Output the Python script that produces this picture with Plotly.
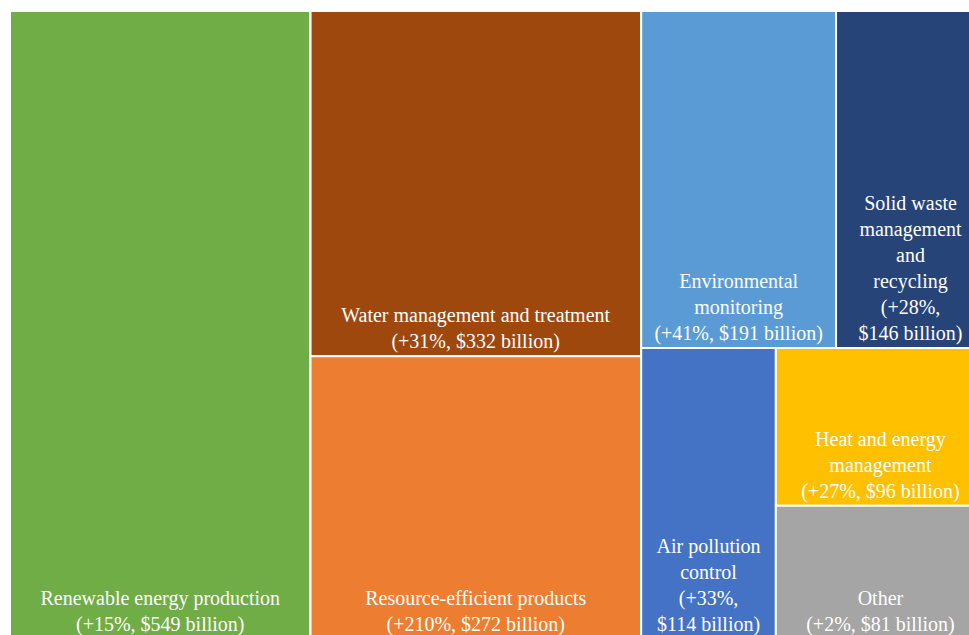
import plotly.graph_objects as go

names = ["Renewable energy production", "Water management and treatment",
         "Resource-efficient products", "Environmental monitoring",
         "Solid waste management and recycling", "Air pollution control",
         "Heat and energy management", "Other"]
display = ["Renewable energy production<br>(+15%, $549 billion)",
           "Water management and treatment<br>(+31%, $332 billion)",
           "Resource-efficient products<br>(+210%, $272 billion)",
           "Environmental<br>monitoring<br>(+41%, $191 billion)",
           "Solid waste<br>management<br>and<br>recycling<br>(+28%,<br>$146 billion)",
           "Air pollution<br>control<br>(+33%,<br>$114 billion)",
           "Heat and energy<br>management<br>(+27%, $96 billion)",
           "Other<br>(+2%, $81 billion)"]
values = [549, 332, 272, 191, 146, 114, 96, 81]
colors = ["#70AD47", "#9E480E", "#ED7D31", "#5B9BD5", "#264478", "#4472C4", "#FFC000", "#A5A5A5"]

# invisible grouping used only to arrange the tiles like the reference
# (order matters: entries are listed in drawing order)
structure = [("root", ""), (0, "root"), ("g1", "root"), (1, "g1"), (2, "g1"),
             ("g2", "root"), ("g3", "g2"), (3, "g3"), (4, "g3"),
             ("g4", "g2"), (5, "g4"), ("g5", "g4"), (6, "g5"), (7, "g5")]

ids, labels, parents, vals, texts, cols = [], [], [], [], [], []
for node, par in structure:
    if isinstance(node, str):
        ids.append(node); labels.append(""); parents.append(par)
        vals.append(0); texts.append(""); cols.append("white")
    else:
        ids.append("leaf%d" % node); labels.append(names[node]); parents.append(par)
        vals.append(values[node]); texts.append(display[node]); cols.append(colors[node])

font_family = "Liberation Serif, Times New Roman, serif"

fig = go.Figure(go.Treemap(
    ids=ids,
    labels=labels,
    parents=parents,
    values=vals,
    branchvalues="remainder",
    text=texts,
    texttemplate="%{text}",
    textposition="bottom center",
    textfont=dict(family=font_family, size=20, color="white"),
    marker=dict(colors=cols, line=dict(color="white", width=2), pad=dict(t=0, l=0, r=0, b=0)),
    tiling=dict(packing="slice-dice", pad=0),
    pathbar=dict(visible=False),
    sort=False,
    hoverinfo="label+value",
))
fig.update_layout(
    width=985, height=639,
    margin=dict(l=10, r=0, t=11, b=0),
    paper_bgcolor="white",
    font=dict(family=font_family),
    uniformtext=dict(minsize=20, mode="show"),
)
fig.write_html("out.html",
               post_script="document.documentElement.style.overflow='hidden';"
                           "document.body.style.overflow='hidden';")
